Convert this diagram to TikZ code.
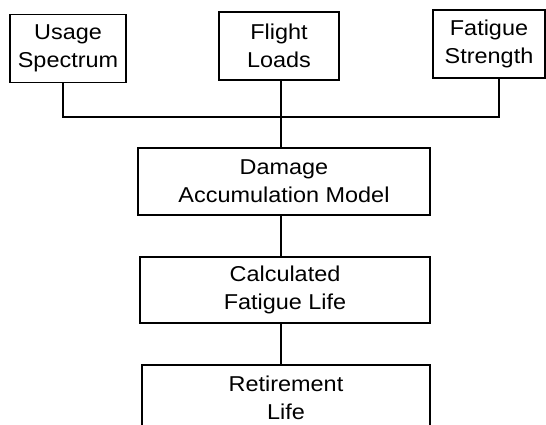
\documentclass[tikz,border=0pt]{standalone}
\usepackage{fontspec}
\setmainfont[FakeStretch=1.09]{Liberation Sans}
\begin{document}
\begin{tikzpicture}[x=1pt,y=-1pt,
  box/.style={draw, line width=1.5pt, inner sep=0pt, align=center,
    font=\fontsize{21.5}{28}\selectfont},
  link/.style={line width=2.4pt}]
\useasboundingbox (0,0) rectangle (546,424);
\begin{scope}
\clip (0,0) rectangle (546,424);
\node[box, minimum width=116pt, minimum height=68pt] (usage) at (68,48.5) {Usage\\Spectrum};
\node[box, minimum width=120pt, minimum height=68pt] (flight) at (279,46) {Flight\\Loads};
\node[box, minimum width=112pt, minimum height=68pt] (fatigue) at (489,44) {Fatigue\\Strength};
\node[box, minimum width=292pt, minimum height=67pt] (damage) at (284,181.5) {Damage\\Accumulation Model};
\node[box, minimum width=290pt, minimum height=66pt] (calc) at (285,290) {Calculated\\Fatigue Life};
\node[box, minimum width=288pt, minimum height=80pt, anchor=north] (ret) at (286,364) {};
\node[font=\fontsize{21.5}{28}\selectfont, align=center, inner sep=0pt] (rettext) at (286,398) {Retirement\\Life};
\coordinate (junction) at (281,117);
\draw[link] (usage.south -| 63,0) -- (63,117) -- (499,117) -- (fatigue.south -| 499,0);
\draw[link] (flight.south -| junction) -- (damage.north -| junction);
\draw[link] (damage.south -| junction) -- (calc.north -| junction);
\draw[link] (calc.south -| junction) -- (ret.north -| junction);
\end{scope}
\end{tikzpicture}
\end{document}
